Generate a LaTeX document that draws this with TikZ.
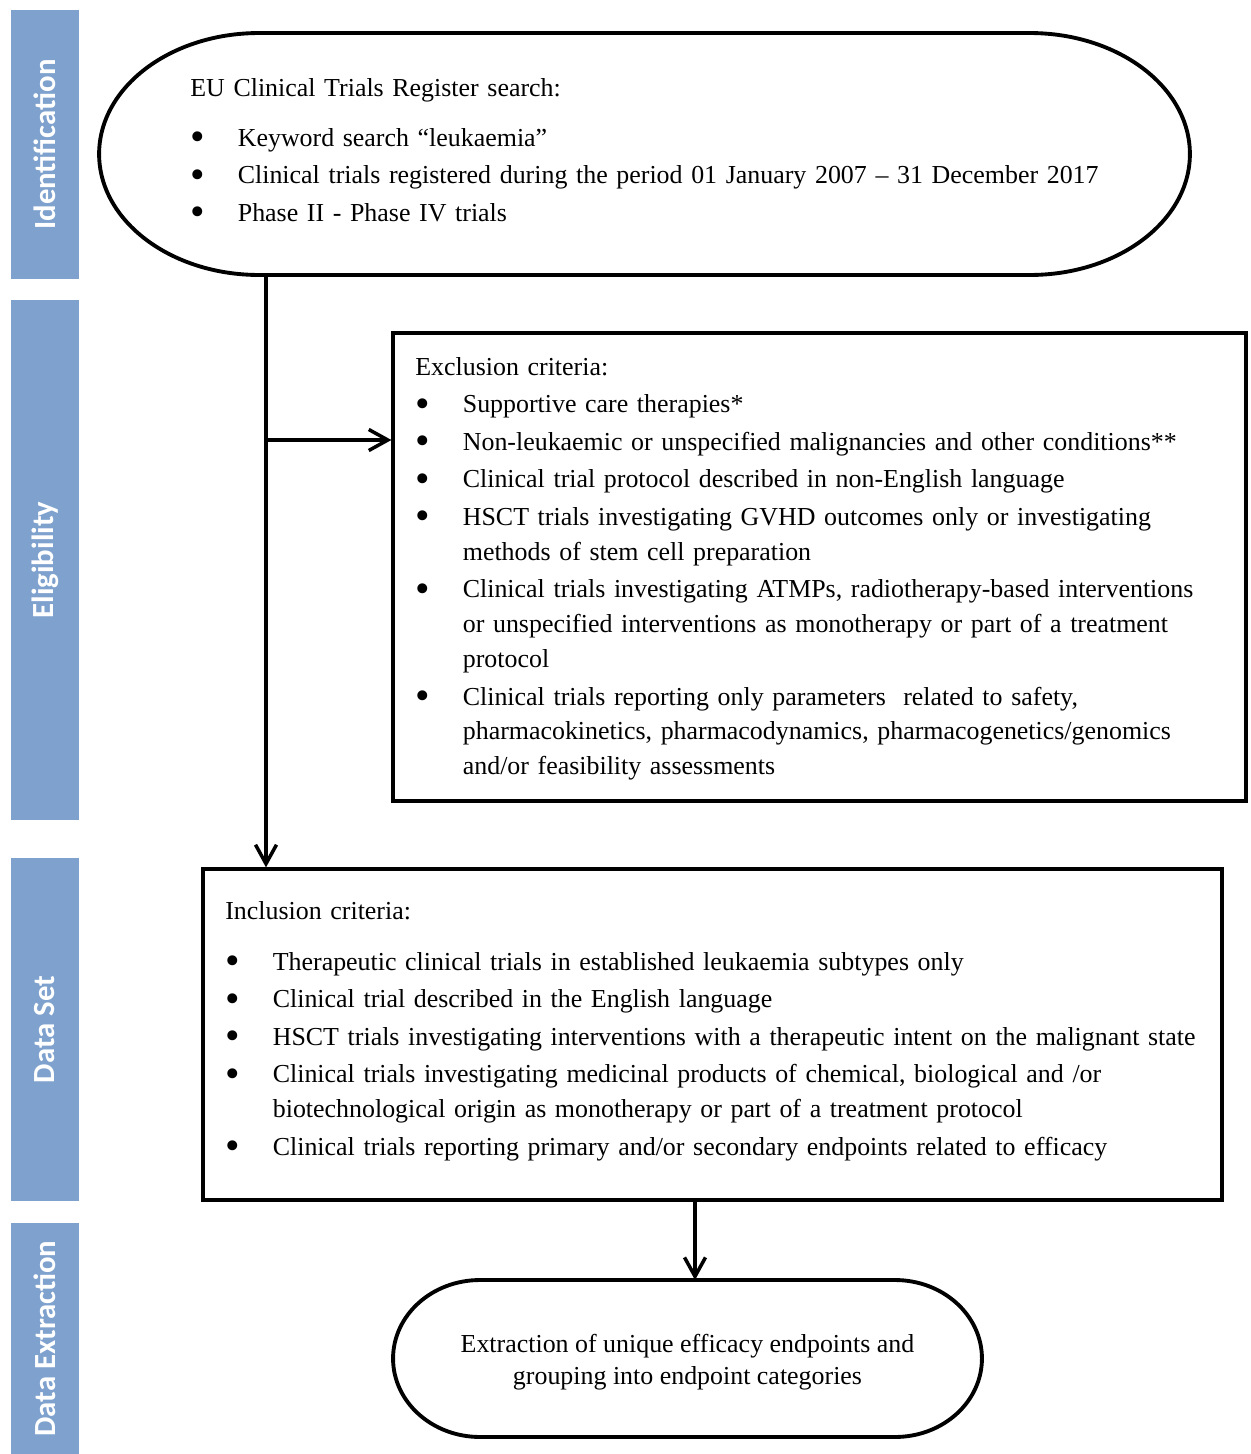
\documentclass[tikz,border=0pt]{standalone}
\usepackage{fontspec}
\setmainfont{Liberation Serif}
\newfontfamily\barfont{Carlito}
\usetikzlibrary{arrows.meta,positioning,calc}
\definecolor{barblue}{RGB}{126,161,206}
\newcommand{\itm}[1]{\par\hangindent=0.95cm\hangafter=1\noindent
    \makebox[0.95cm][l]{\raisebox{-0.17em}{\scalebox{1.6}{\textbullet}}}#1\par}
\newcommand{\terminal}[3]{%
    \draw[line width=2.2pt]
        ([xshift=#2]#1.north west) -- ([xshift=-#2]#1.north east)
        arc[start angle=90, end angle=-90, x radius=#2, y radius=#3]
        -- ([xshift=#2]#1.south west)
        arc[start angle=270, end angle=90, x radius=#2, y radius=#3] -- cycle;}
\tikzset{bar/.style={
            fill=barblue,
            text=white,
            rotate=90,
            inner sep=0pt,
            minimum height=1.36cm,
            font=\barfont\bfseries\fontsize{17.5}{20}\selectfont
        },
        term/.style={
            inner sep=0pt,
            outer sep=0pt
        },
        critbox/.style={
            draw,
            line width=1.9pt,
            inner sep=0pt
        },
        list/.style={
            anchor=north west,
            inner sep=0pt,
            text width=21cm,
            align=left,
            font=\fontsize{14.75}{19.9}\selectfont,
            execute at begin node={\setlength{\parskip}{0.05cm}}
        },
        flow/.style={
            line width=2pt,
            -{Straight Barb[length=0.38cm,width=0.42cm]}
        }
    }
\begin{document}
\begin{tikzpicture}[x=0.02cm,y=-0.02cm]
    \useasboundingbox (0,0) rectangle (1251,1454);
    % stage bars
    \node[bar, minimum width=5.38cm] (bidn) at (45,144.5) {Identification};
    \node[bar, minimum width=10.4cm] (belig) at (45,560) {Eligibility};
    \node[bar, minimum width=6.86cm] (bset) at (45,1029.5) {Data Set};
    \node[bar, minimum width=4.62cm] (bext) at (45,1338.5) {Data Extraction};
    % search
    \node[term, minimum width=21.82cm, minimum height=4.84cm] (idn) at (644.5,154) {};
    \terminal{idn}{3.2cm}{2.42cm}
    \node[list] (idnlist) at (190,78) {EU Clinical Trials Register search:\par\vspace{0.25cm}
        \itm{Keyword search \textquotedblleft leukaemia\textquotedblright}
        \itm{Clinical trials registered during the period 01 January 2007 \textendash{} 31 December 2017}
        \itm{Phase II - Phase IV trials}};
    % exclusion
    \node[critbox, minimum width=17.06cm, minimum height=9.36cm] (excl) at (819.5,567) {};
    \node[list] (excllist) at (415,357) {Exclusion criteria:
        \itm{Supportive care therapies*}
        \itm{Non-leukaemic or unspecified malignancies and other conditions**}
        \itm{Clinical trial protocol described in non-English language}
        \itm{HSCT trials investigating GVHD outcomes only or investigating\newline methods of stem cell preparation}
        \itm{Clinical trials investigating ATMPs, radiotherapy-based interventions\newline or unspecified interventions as monotherapy or part of a treatment\newline protocol}
        \itm{Clinical trials reporting only parameters~ related to safety,\newline pharmacokinetics, pharmacodynamics, pharmacogenetics/genomics\newline and/or feasibility assessments}};
    % inclusion
    \node[critbox, minimum width=20.38cm, minimum height=6.62cm] (incl) at (712.5,1034.5) {};
    \node[list] (incllist) at (225,901) {Inclusion criteria:\par\vspace{0.27cm}
        \itm{Therapeutic clinical trials in established leukaemia subtypes only}
        \itm{Clinical trial described in the English language}
        \itm{HSCT trials investigating interventions with a therapeutic intent on the malignant state}
        \itm{Clinical trials investigating medicinal products of chemical, biological and /or\newline biotechnological origin as monotherapy or part of a treatment protocol}
        \itm{Clinical trials reporting primary and/or secondary endpoints related to efficacy}};
    % extraction
    \node[term, minimum width=11.78cm, minimum height=3.14cm] (ext) at (687.5,1358.5) {};
    \terminal{ext}{1.74cm}{1.57cm}
    \node[align=center, font=\fontsize{14.75}{18.2}\selectfont] (exttxt) at (687.5,1362)
        {Extraction of unique efficacy endpoints and\\grouping into endpoint categories};
    % connectors
    \coordinate (split) at (266,440);
    \coordinate (drop) at (695,1240);
    \draw[flow] (idn.south -| split) -- (incl.north -| split);
    \draw[flow] (split) -- (split -| excl.west);
    \draw[flow] (incl.south -| drop) -- (ext.north -| drop);
\end{tikzpicture}
\end{document}
